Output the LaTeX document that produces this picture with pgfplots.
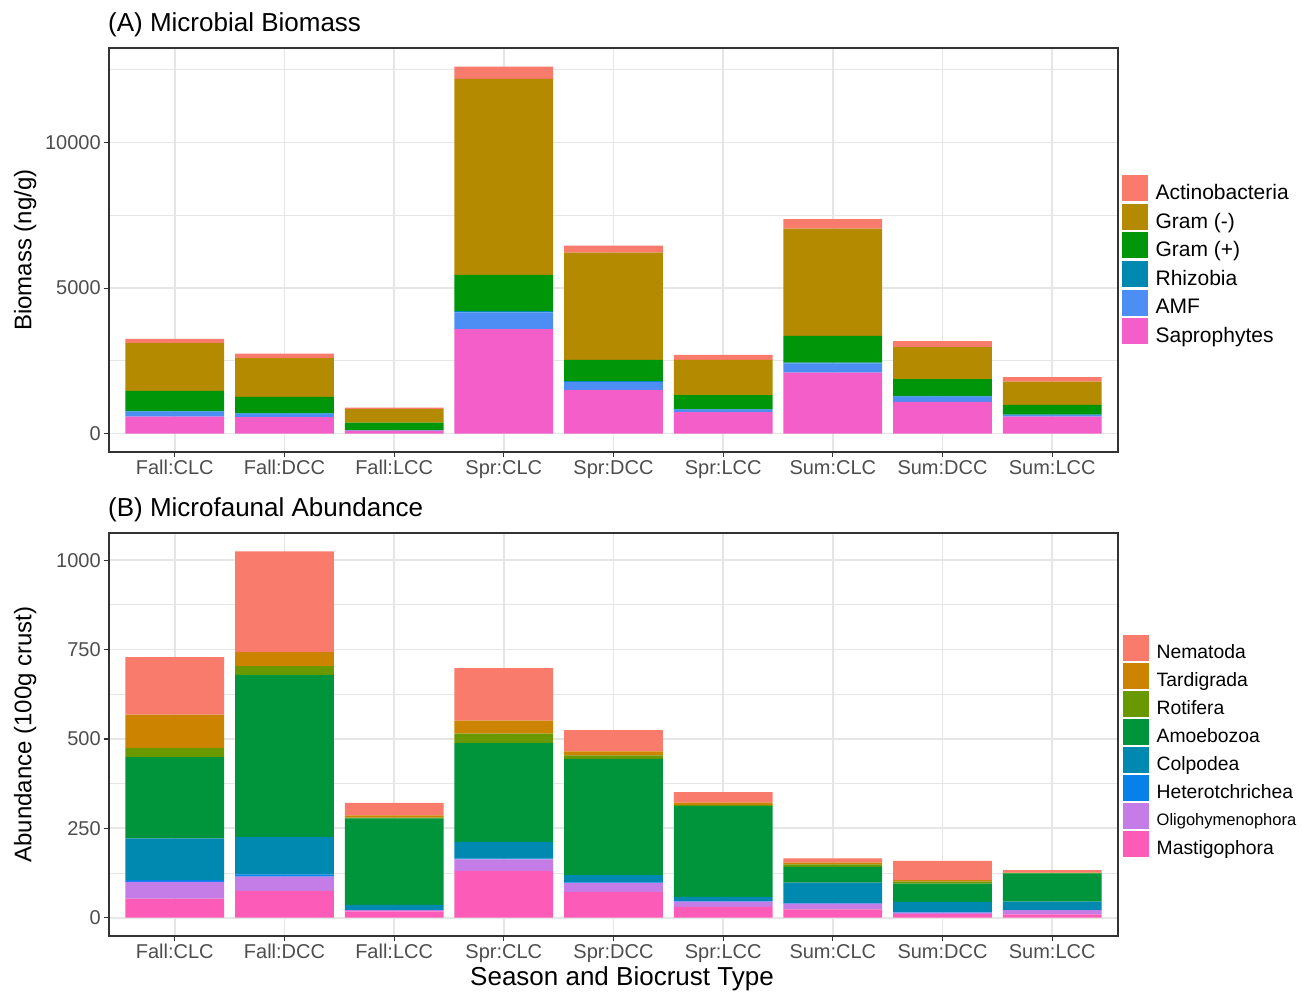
\documentclass[border=0pt]{standalone}
\usepackage{fontspec}
\setmainfont{Liberation Sans}
\usepackage{pgfplots}
\usepackage{pgfplotstable}
\pgfplotsset{compat=1.18}

% series colours
\definecolor{cActino}{HTML}{F87B6C}
\definecolor{cGramN}{HTML}{B38A00}
\definecolor{cGramP}{HTML}{00960A}
\definecolor{cRhiz}{HTML}{0089B0}
\definecolor{cAMF}{HTML}{4D8EF4}
\definecolor{cSap}{HTML}{F35EC8}
\definecolor{cNem}{HTML}{F87B6C}
\definecolor{cTard}{HTML}{CC8400}
\definecolor{cRot}{HTML}{6A9800}
\definecolor{cAmoeb}{HTML}{00953A}
\definecolor{cColp}{HTML}{0089B0}
\definecolor{cHet}{HTML}{0880EA}
\definecolor{cOligo}{HTML}{C47DE6}
\definecolor{cMast}{HTML}{FC5CB8}
\definecolor{frame}{HTML}{333333}
\definecolor{gridc}{HTML}{E6E6E6}
\definecolor{ticktxt}{HTML}{4D4D4D}

% microbial biomass (ng/g) by season:crust type
\pgfplotstableread{
x Sap AMF Rhiz GramP GramN Actino
0 584 176 20 687 1639 148
1 563 123 15 560 1330 158
2 100 15 5 258 460 55
3 3587 579 40 1247 6734 423
4 1502 273 25 732 3687 241
5 735 93 10 481 1213 172
6 2096 314 30 917 3687 323
7 1089 186 20 574 1100 206
8 584 59 10 333 801 151
}\biomass

% microfaunal abundance (per 100 g crust)
\pgfplotstableread{
x Mast Oligo Het Colp Amoeb Rot Tard Nem
0 53 47 5 117 227 26 93 161
1 75 40 6 105 453 25 39 282
2 18 3 1 14 242 2 6 35
3 131 32 2 47 277 26 36 147
4 72 25 2 20 325 10 11 60
5 30 15 2 11 254 3 7 29
6 23 16 2 57 44 7 5 12
7 10 4 2 28 51 6 4 54
8 9 12 1 23 79 1 1 7
}\fauna

\pgfplotsset{
  panel/.style={
    scale only axis, width=756.75pt, anchor=south west,
    xmin=-0.6, xmax=8.6, enlargelimits=false,
    xtick={0,...,8},
    xticklabels={Fall:CLC,Fall:DCC,Fall:LCC,Spr:CLC,Spr:DCC,Spr:LCC,Sum:CLC,Sum:DCC,Sum:LCC},
    ybar stacked, bar width=0.9,
    scaled y ticks=false,
    axis line style={color=frame, line width=1pt},
    tick pos=left, tick align=outside,
    major tick length=4pt, minor tick length=0pt,
    tick style={color=frame, line width=0.9pt},
    xmajorgrids, ymajorgrids, yminorgrids,
    major grid style={color=gridc, line width=1.3pt},
    minor grid style={color=gridc, line width=0.7pt},
    tick label style={font=\fontsize{15}{18}\selectfont, color=ticktxt},
    yticklabel style={inner sep=2pt},
    xticklabel style={anchor=base, yshift=-13pt},
    /pgf/number format/assume math mode=true,
    /pgf/number format/1000 sep={},
    every axis y label/.style={at={(axis description cs:-0.083,0.5)}, rotate=90,
      anchor=center, font=\fontsize{18}{21}\selectfont},
    title style={font=\fontsize{19.5}{23}\selectfont, at={(axis description cs:0,1)},
      anchor=base west, inner sep=0pt, yshift=6.2pt, xshift=-0.8pt},
    legend cell align=left, reverse legend,
    legend image code/.code={\fill[##1] (0pt,-6.2pt) rectangle (19.5pt,13.3pt);},
    legend style={anchor=north west, draw=none, fill=none, inner sep=0pt,
      column sep=5.5pt, nodes={inner sep=0pt}},
    every axis plot/.append style={draw=none},
  }
}

\begin{document}
\begin{tikzpicture}
\useasboundingbox (0,0) rectangle (976.5pt,744pt);

% (A) microbial biomass
\begin{axis}[panel, at={(81.75pt,405pt)}, height=303pt,
    ymin=-631, ymax=13250, ytick={0,5000,10000}, minor ytick={2500,7500,12500},
    ylabel={Biomass (ng/g)}, title={(A) Microbial Biomass},
    legend style={at={(1.004,0.6856)}, row sep=1.7pt, font=\fontsize{15.75}{18}\selectfont}]
  \addplot[fill=cSap]    table[x=x,y=Sap]{\biomass};    \addlegendentry{Saprophytes}
  \addplot[fill=cAMF]    table[x=x,y=AMF]{\biomass};    \addlegendentry{AMF}
  \addplot[fill=cRhiz]   table[x=x,y=Rhiz]{\biomass};   \addlegendentry{Rhizobia}
  \addplot[fill=cGramP]  table[x=x,y=GramP]{\biomass};  \addlegendentry{Gram (+)}
  \addplot[fill=cGramN]  table[x=x,y=GramN]{\biomass};  \addlegendentry{Gram (-)}
  \addplot[fill=cActino] table[x=x,y=Actino]{\biomass}; \addlegendentry{Actinobacteria}
\end{axis}

% (B) microfaunal abundance
\begin{axis}[panel, at={(81.75pt,42pt)}, height=302.25pt,
    ymin=-51.25, ymax=1076.25, ytick={0,250,500,750,1000}, minor ytick={125,375,625,875},
    ylabel={Abundance (100g crust)}, title={(B) Microfaunal Abundance},
    xlabel={Season and Biocrust Type},
    every axis x label/.style={at={(axis description cs:0.5084,0)}, anchor=base,
      yshift=-36.75pt, font=\fontsize{19.5}{23}\selectfont},
    legend style={at={(1.005,0.7487)}, row sep=1.5pt, font=\fontsize{14.5}{17}\selectfont}]
  \addplot[fill=cMast]  table[x=x,y=Mast]{\fauna};  \addlegendentry{Mastigophora}
  \addplot[fill=cOligo] table[x=x,y=Oligo]{\fauna}; \addlegendentry{\fontsize{12.4}{14}\selectfont Oligohymenophora}
  \addplot[fill=cHet]   table[x=x,y=Het]{\fauna};   \addlegendentry{Heterotchrichea}
  \addplot[fill=cColp]  table[x=x,y=Colp]{\fauna};  \addlegendentry{Colpodea}
  \addplot[fill=cAmoeb] table[x=x,y=Amoeb]{\fauna}; \addlegendentry{Amoebozoa}
  \addplot[fill=cRot]   table[x=x,y=Rot]{\fauna};   \addlegendentry{Rotifera}
  \addplot[fill=cTard]  table[x=x,y=Tard]{\fauna};  \addlegendentry{Tardigrada}
  \addplot[fill=cNem]   table[x=x,y=Nem]{\fauna};   \addlegendentry{Nematoda}
\end{axis}
\end{tikzpicture}
\end{document}
